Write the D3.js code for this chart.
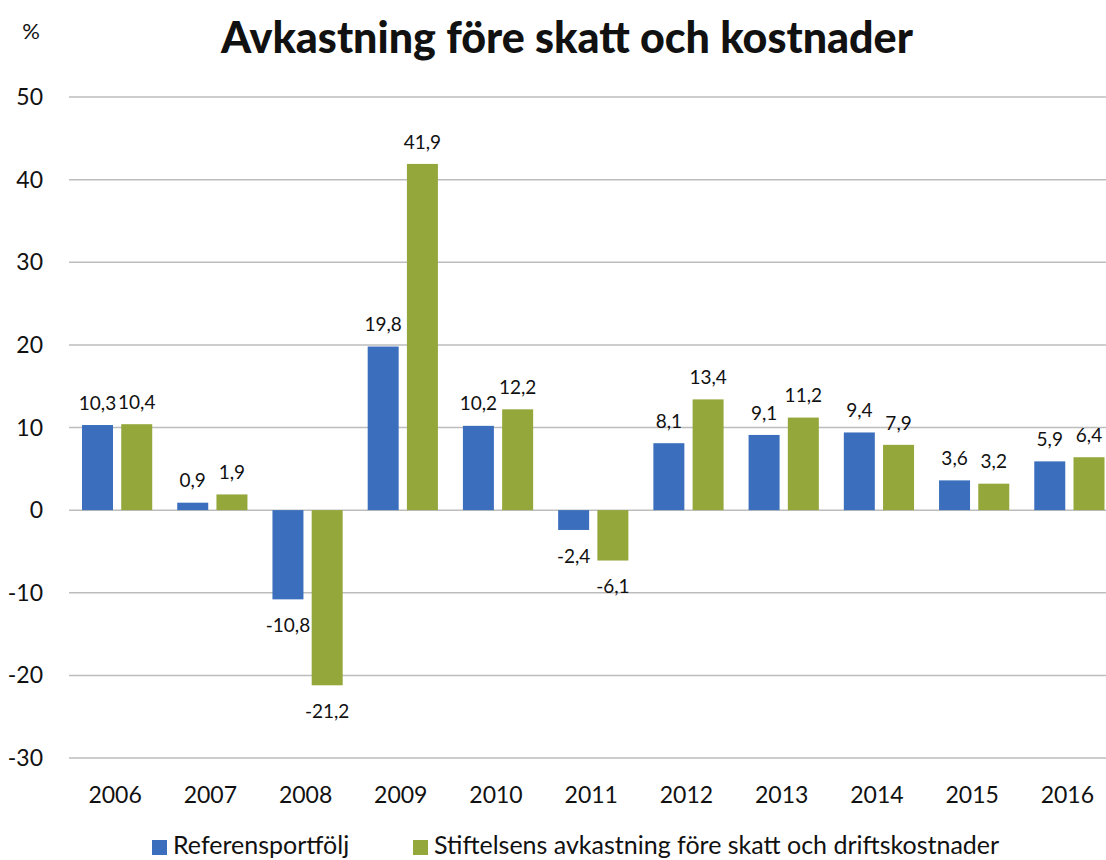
<!DOCTYPE html>
<html>
<head>
<meta charset="utf-8">
<script src="https://cdn.jsdelivr.net/npm/d3@7"></script>
<style>
  body { margin: 0; background: #fff; }
  svg { display: block; font-family: Lato, "Open Sans", sans-serif; }
</style>
</head>
<body>
<svg id="chart" width="1106" height="860"></svg>
<script>
// data
const years = ["2006","2007","2008","2009","2010","2011","2012","2013","2014","2015","2016"];
const referens = [10.3, 0.9, -10.8, 19.8, 10.2, -2.4, 8.1, 9.1, 9.4, 3.6, 5.9];
const stiftelsen = [10.4, 1.9, -21.2, 41.9, 12.2, -6.1, 13.4, 11.2, 7.9, 3.2, 6.4];
const seriesNames = ["Referensportfölj", "Stiftelsens avkastning före skatt och driftskostnader"];
const yTicks = [-30, -20, -10, 0, 10, 20, 30, 40, 50];

const colors = ["#3b6fbd", "#93a73a"];

const svg = d3.select("#chart");

const x0 = d3.scaleBand().domain(years).range([69.5, 1117]).paddingInner(0).paddingOuter(0);
const x1 = d3.scaleBand().domain([0, 1]).range([12.5, x0.bandwidth() - 12.5]).paddingInner(0.21);
const y = d3.scaleLinear().domain([-30, 50]).range([758, 97]);

// grid
svg.append("g")
  .selectAll("line")
  .data(yTicks)
  .join("line")
  .attr("x1", 69).attr("x2", 1106)
  .attr("y1", d => y(d)).attr("y2", d => y(d))
  .attr("stroke", "#bdbdbd")
  .attr("stroke-width", 1.5);

// y axis labels
svg.append("g")
  .selectAll("text")
  .data(yTicks)
  .join("text")
  .attr("x", 43)
  .attr("y", d => y(d))
  .attr("dy", "0.35em")
  .attr("text-anchor", "end")
  .attr("font-size", 23)
  .attr("fill", "#111")
  .text(d => d);

svg.append("text")
  .attr("x", 31).attr("y", 31)
  .attr("dy", "0.35em")
  .attr("text-anchor", "middle")
  .attr("font-size", 22)
  .attr("fill", "#111")
  .text("%");

// title
svg.append("text")
  .attr("x", 567).attr("y", 38)
  .attr("dy", "0.35em")
  .attr("text-anchor", "middle")
  .attr("font-size", 43)
  .attr("font-weight", 900)
  .attr("fill", "#111")
  .text("Avkastning före skatt och kostnader");

// x labels
svg.append("g")
  .selectAll("text")
  .data(years)
  .join("text")
  .attr("x", d => x0(d) + x0.bandwidth() / 2 - 2)
  .attr("y", 795)
  .attr("dy", "0.35em")
  .attr("text-anchor", "middle")
  .attr("font-size", 23)
  .attr("fill", "#111")
  .text(d => d);

// bars
const rows = years.map((yr, i) => ({ year: yr, vals: [referens[i], stiftelsen[i]] }));
const groups = svg.append("g")
  .selectAll("g")
  .data(rows)
  .join("g")
  .attr("transform", d => `translate(${x0(d.year)},0)`);

groups.selectAll("rect")
  .data(d => d.vals.map((v, k) => ({ k, v })))
  .join("rect")
  .attr("x", d => x1(d.k))
  .attr("width", x1.bandwidth())
  .attr("y", d => y(Math.max(0, d.v)))
  .attr("height", d => Math.abs(y(d.v) - y(0)))
  .attr("fill", d => colors[d.k]);

const fmt = v => d3.format(".1f")(v).replace(".", ",").replace("−", "-");
groups.selectAll("text")
  .data(d => d.vals.map((v, k) => ({ k, v })))
  .join("text")
  .attr("x", d => x1(d.k) + x1.bandwidth() / 2)
  .attr("y", d => d.v >= 0 ? y(d.v) - 22 : y(d.v) + 26)
  .attr("dy", "0.35em")
  .attr("text-anchor", "middle")
  .attr("font-size", 19)
  .attr("fill", "#111")
  .text(d => fmt(d.v));

// legend
const legendX = [152, 413];
const legend = svg.append("g")
  .selectAll("g")
  .data(seriesNames)
  .join("g")
  .attr("transform", (d, i) => `translate(${legendX[i]},840)`);
legend.append("rect")
  .attr("width", 15).attr("height", 15)
  .attr("fill", (d, i) => colors[i]);
legend.append("text")
  .attr("x", 21).attr("y", 14)
  .attr("font-size", 25)
  .attr("fill", "#111")
  .text(d => d);
</script>
</body>
</html>
